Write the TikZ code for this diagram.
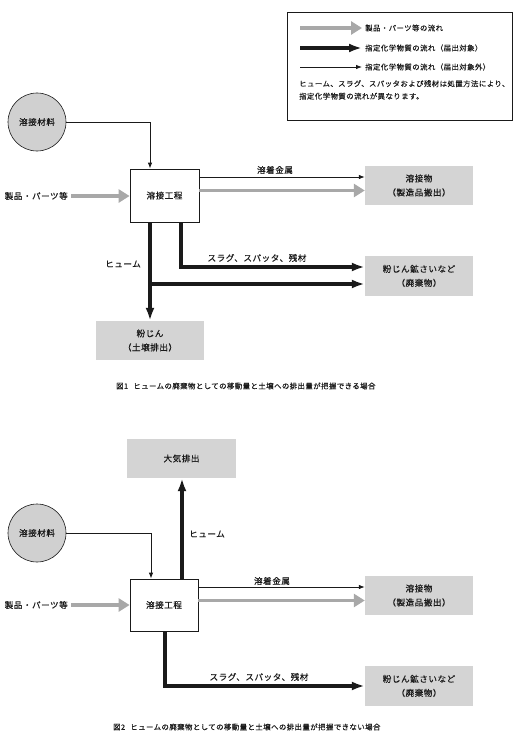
\documentclass[tikz,border=0pt]{standalone}
\usepackage{fontspec}
\setmainfont{Noto Sans CJK JP}[FakeBold=0.35,LetterSpace=6]
\usetikzlibrary{arrows.meta}
\definecolor{boxgray}{HTML}{D4D4D4}
\definecolor{circgray}{HTML}{D0D0D0}
\definecolor{flowgray}{HTML}{A8A8A8}
\definecolor{ink}{HTML}{1A1A1A}
\tikzset{
  lbl/.style={font=\fontsize{8.6}{14}\selectfont, text=ink, inner sep=0pt},
  small/.style={font=\fontsize{7.4}{12.5}\selectfont, text=ink, inner sep=0pt},
  graybox/.style={fill=boxgray, draw=none, inner sep=0pt, align=center, font=\fontsize{8.6}{14}\selectfont, text=ink},
  procbox/.style={draw=ink, line width=0.8pt, fill=white, inner sep=0pt, font=\fontsize{8.6}{14}\selectfont, text=ink},
  matcirc/.style={circle, draw=ink, line width=0.6pt, fill=circgray, inner sep=0pt, minimum size=58pt, font=\fontsize{8.6}{14}\selectfont, text=ink},
  grayflow/.style={draw=flowgray, line width=3.2pt, -{Triangle[length=11pt,width=13pt]}},
  thickflow/.style={draw=ink, line width=3.6pt, -{Latex[length=13pt,width=9pt]}},
  thickline/.style={draw=ink, line width=3.6pt},
  thinflow/.style={draw=ink, line width=0.8pt, -{Latex[length=6pt,width=4.5pt]}},
}
\begin{document}
\begin{tikzpicture}[x=1pt,y=-1pt]
\useasboundingbox (0,0) rectangle (519,741);

% ---------- legend ----------
\node[draw=ink, line width=0.8pt, minimum width=225pt, minimum height=108pt, inner sep=0pt, anchor=north west] (legend) at (287,12) {};
\coordinate (lg1a) at (300,28); \coordinate (lg1b) at (362,28);
\coordinate (lg2a) at (300,48); \coordinate (lg2b) at (362,48);
\coordinate (lg3a) at (300,67); \coordinate (lg3b) at (362,67);
\draw[grayflow] (lg1a) -- (lg1b);
\draw[thickflow] (lg2a) -- (lg2b);
\draw[thinflow] (lg3a) -- (lg3b);
\node[small, anchor=west] (lgt1) at (365,28) {製品・パーツ等の流れ};
\node[small, anchor=west] (lgt2) at (365,48) {指定化学物質の流れ（届出対象）};
\node[small, anchor=west] (lgt3) at (365,67) {指定化学物質の流れ（届出対象外）};
\node[small, anchor=north west, align=left] (lgnote) at (299,80) {ヒューム、スラグ、スパッタおよび残材は処置方法により、\\指定化学物質の流れが異なります。};

% ---------- figure 1 ----------
\node[matcirc] (mat1) at (37,122) {溶接材料};
\node[procbox, minimum width=69pt, minimum height=53pt] (proc1) at (164.5,195.5) {溶接工程};
\node[lbl, anchor=east] (parts1) at (68,196) {製品・パーツ等};
\node[graybox, minimum width=108pt, minimum height=39pt] (prod1) at (419,185.5) {溶接物\\（製造品搬出）};
\node[graybox, minimum width=108pt, minimum height=40pt] (waste1) at (419,276) {粉じん鉱さいなど\\（廃棄物）};
\node[graybox, minimum width=108pt, minimum height=39pt] (dust1) at (150,340.5) {粉じん\\（土壌排出）};

\draw[grayflow] (parts1.east) ++(3,0) coordinate (p1s) -- (proc1.west |- p1s);
\draw[thinflow] (mat1.east) -| (proc1.north -| 150,0);
\draw[thinflow] (proc1.east |- 0,177) -- (prod1.west |- 0,177);
\draw[grayflow] (proc1.east |- 0,190.5) -- (prod1.west |- 0,190.5);
\node[lbl] (l1a) at (275,170) {溶着金属};
\draw[thickflow] (proc1.south -| 181,0) |- (waste1.west |- 0,267);
\draw[thickflow] (proc1.south -| 150,0) -- (dust1.north -| 150,0);
\draw[thickflow] (150,284) -- (waste1.west |- 0,284);
\node[lbl] (l1b) at (257,258) {スラグ、スパッタ、残材};
\node[lbl] (l1c) at (123,264) {ヒューム};

\node[small, anchor=west] (cap1) at (116,386) {図1\hspace{0.7em}ヒュームの廃棄物としての移動量と土壌への排出量が把握できる場合};

% ---------- figure 2 ----------
\node[graybox, minimum width=109pt, minimum height=39pt] (air2) at (181.5,458.5) {大気排出};
\node[matcirc] (mat2) at (37,533) {溶接材料};
\node[procbox, minimum width=68pt, minimum height=52pt] (proc2) at (164,605) {溶接工程};
\node[lbl, anchor=east] (parts2) at (68,605) {製品・パーツ等};
\node[graybox, minimum width=108pt, minimum height=39pt] (prod2) at (419,595.5) {溶接物\\（製造品搬出）};
\node[graybox, minimum width=108pt, minimum height=40pt] (waste2) at (419,686) {粉じん鉱さいなど\\（廃棄物）};

\draw[grayflow] (parts2.east) ++(3,0) coordinate (p2s) -- (proc2.west |- p2s);
\draw[thinflow] (mat2.east) -| (proc2.north -| 151,0);
\draw[thickflow] (proc2.north -| 182,0) -- (air2.south -| 182,0);
\node[lbl] (l2c) at (207,534) {ヒューム};
\draw[thinflow] (proc2.east |- 0,587) -- (prod2.west |- 0,587);
\draw[grayflow] (proc2.east |- 0,600.5) -- (prod2.west |- 0,600.5);
\node[lbl] (l2a) at (272,581) {溶着金属};
\draw[thickflow] (proc2.south -| 165,0) |- (waste2.west |- 0,686);
\node[lbl] (l2b) at (259,677) {スラグ、スパッタ、残材};

\node[small, anchor=west] (cap2) at (113,727) {図2\hspace{0.7em}ヒュームの廃棄物としての移動量と土壌への排出量が把握できない場合};
\end{tikzpicture}
\end{document}
